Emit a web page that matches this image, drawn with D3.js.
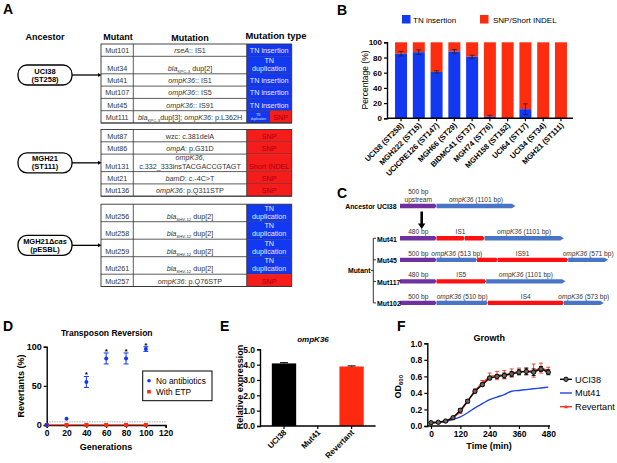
<!DOCTYPE html>
<html>
<head>
<meta charset="utf-8">
<script src="https://cdn.jsdelivr.net/npm/d3@7"></script>
<style>
body { margin: 0; background: #fff; }
svg { display: block; font-family: "Liberation Sans", Arial, sans-serif; }
</style>
</head>
<body>
<svg id="fig" width="617" height="463"></svg>
<script>
// ---------- panel A : mutation table ----------
var ancestors = [["UCI38", "(ST258)"], ["MGH21", "(ST111)"], ["MGH21\u0394*cas*", "(pESBL)"]];
var mutants = [
    ["Mut101", "Mut34", "Mut41", "Mut107", "Mut45", "Mut111"],
    ["Mut87", "Mut86", "Mut131", "Mut21", "Mut136"],
    ["Mut256", "Mut258", "Mut259", "Mut261", "Mut257"]
];
var mutations = [
    ["*rseA*:: IS1", "*bla*_{KPC-3} dup[2]", "*ompK36*:: IS1", "*ompK36*:: IS5", "*ompK36*:: IS91", "*bla*_{KPC-3}dup[3]; *ompK36*: p.L362H"],
    ["wzc: c.381delA", "*ompA*: p.G31D", "*ompK36*,|c.332_333insTACGACCGTAGT", "*bamD*: c.-4C>T", "*ompK36*: p.Q311STP"],
    ["*bla*_{SHV-12} dup[2]", "*bla*_{SHV-12} dup[2]", "*bla*_{SHV-12} dup[2]", "*bla*_{SHV-12} dup[2]", "*ompK36*: p.Q76STP"]
];
var mutTypes = [
    ["ins", "dup", "ins", "ins", "ins", "dup+snp"],
    ["snp", "snp", "indel", "snp", "snp"],
    ["dup", "dup", "dup", "dup", "snp"]
];

// ---------- panel B ----------
var strains = ["UCI38 (ST258)", "MGH222 (ST15)", "UCICRE126 (ST147)", "MGH66 (ST29)", "BIDMC41 (ST37)",
    "MGH74 (ST76)", "MGH158 (ST152)", "UCI64 (ST17)", "UCI34 (ST34)", "MGH21 (ST111)"];
var tnInsertion = [85, 87, 61, 88, 81, 2, 0, 12, 0, 0];
var tnErr = [3, 3, 1.5, 2.5, 2, 2, 0, 7, 0, 0];
var pctTicks = [0, 20, 40, 60, 80, 100];

// ---------- panel C : ompK36 locus schematics ----------
var constructs = ["Ancestor UCI38", "Mut41", "Mut45", "Mut117", "Mut102"];
var constructSlot = [0, 1.5, 2.5, 3.5, 4.5];
var segKinds = [
    ["up", "orf"],
    ["up", "is", "is", "orf"],
    ["up", "orf", "is", "is", "orf"],
    ["up", "is", "orf"],
    ["up", "orf", "is", "orf"]
];
var segLens = [
    [500, 1082],
    [500, 388, 270, 1086],
    [500, 556, 284, 963, 548],
    [500, 680, 1088],
    [500, 703, 1041, 548]
];
// [text, first segment, last segment]
var segLabels = [
    [["500 bp|upstream", 0, 0], ["*ompK36* (1101 bp)", 1, 1]],
    [["480 bp", 0, 0], ["IS1", 1, 2], ["*ompK36* (1101 bp)", 3, 3]],
    [["500 bp", 0, 0], ["*ompK36* (513 bp)", 1, 1], ["IS91", 2, 3], ["*ompK36* (571 bp)", 4, 4]],
    [["480 bp", 0, 0], ["IS5", 1, 1], ["*ompK36* (1101 bp)", 2, 2]],
    [["500 bp", 0, 0], ["*ompK36* (510 bp)", 1, 1], ["IS4", 2, 2], ["*ompK36* (573 bp)", 3, 3]]
];

// ---------- panel D ----------
var genTicks = [0, 20, 40, 60, 80, 100, 120];
var noAbGen = [0, 20, 40, 60, 80, 100];
var noAbMean = [0, 8, 55, 85, 85, 97];
var noAbErr = [0, 0, 7, 7, 7, 3];
var noAbSig = [false, false, true, true, true, true];
var etpGen = [0, 20, 40, 60, 80, 100];
var etpMean = [0, 0, 0, 0, 0, 0];
var detectLimit = 4;

// ---------- panel E ----------
var strainsE = ["UCI38", "Mut41", "Revertant"];
var exprMean = [4.08, 0, 3.88];
var exprErr = [0.05, 0, 0.04];
var exprColor = ["#000000", "#000000", "#ff2a10"];

// ---------- panel F ----------
var timeMin = [0, 30, 60, 90, 120, 150, 180, 210, 240, 270, 300, 330, 360, 390, 420, 450, 480];
var odUCI38 = [0.04, 0.045, 0.06, 0.10, 0.19, 0.30, 0.42, 0.50, 0.58, 0.60, 0.61, 0.63, 0.65, 0.66, 0.65, 0.69, 0.65];
var odUCI38Err = [0.01, 0.01, 0.01, 0.01, 0.02, 0.02, 0.02, 0.02, 0.02, 0.02, 0.03, 0.03, 0.03, 0.04, 0.04, 0.03, 0.03];
var odMut41 = [0.04, 0.045, 0.055, 0.08, 0.11, 0.16, 0.22, 0.27, 0.32, 0.35, 0.38, 0.42, 0.43, 0.44, 0.45, 0.46, 0.47];
var odRev = [0.04, 0.045, 0.06, 0.10, 0.17, 0.30, 0.43, 0.52, 0.60, 0.61, 0.62, 0.64, 0.66, 0.66, 0.67, 0.70, 0.67];
var odRevErr = [0.01, 0.01, 0.01, 0.01, 0.02, 0.02, 0.02, 0.03, 0.04, 0.05, 0.05, 0.05, 0.04, 0.04, 0.08, 0.06, 0.04];
var timeTicks = [0, 120, 240, 360, 480];
var odTicks = [0, 0.2, 0.4, 0.6, 0.8, 1.0];

var BLUE = "#1238f2";
var RED = "#f51c1c";
var svg = d3.select("#fig");

// text with *italic* and _{sub} markup
function rich(t, str, fs) {
    var parts = str.split(/(\*[^*]+\*|_\{[^}]+\})/g).filter(function(p) { return p; });
    var sub = false;
    parts.forEach(function(p) {
        var s = t.append("tspan");
        if (p[0] === "_" && p.length > 3) {
            s.text(p.slice(2, -1)).attr("font-size", fs * 0.6).attr("dy", fs * 0.3);
            sub = true;
            return;
        }
        if (p[0] === "*" && p.length > 2 && p[p.length - 1] === "*") {
            s.text(p.slice(1, -1)).style("font-style", "italic");
        } else {
            s.text(p);
        }
        if (sub) { s.attr("dy", -fs * 0.3); sub = false; }
    });
    return t;
}

function label(x, y, str, fs, opts) {
    opts = opts || {};
    var t = svg.append("text").attr("x", x).attr("y", y).attr("font-size", fs)
        .attr("text-anchor", opts.anchor || "middle")
        .attr("font-weight", opts.bold ? "bold" : null)
        .attr("fill", opts.fill || "#000");
    if (opts.rotate) t.attr("transform", "rotate(" + opts.rotate + "," + x + "," + y + ")");
    return rich(t, str, fs);
}

function styleAxis(g, fs) {
    g.selectAll("path.domain").attr("stroke", "#000").attr("stroke-width", 1.4);
    g.selectAll(".tick line").attr("stroke", "#000").attr("stroke-width", 1.2);
    g.selectAll(".tick text").attr("font-size", fs).attr("font-weight", "bold")
        .attr("font-family", "Liberation Sans, Arial, sans-serif").attr("fill", "#000");
}

// panel letters
[["A", 3, 14], ["B", 337, 15], ["C", 337, 198], ["D", 3, 331], ["E", 220, 331], ["F", 397, 331]].forEach(function(l) {
    svg.append("text").attr("x", l[1]).attr("y", l[2]).attr("font-size", 14).attr("font-weight", "bold").text(l[0]);
});

// ================= A =================
(function() {
    var cols = [101, 133.3, 246.7, 291.7];
    var fs = 7.2;
    label(45, 40, "Ancestor", 9, {bold: true});
    label(118, 40, "Mutant", 9, {bold: true});
    label(190, 41, "Mutation", 9, {bold: true});
    label(276, 39, "Mutation type", 9.4, {bold: true});

    var y = 44;
    mutants.forEach(function(group, gi) {
        var top = y;
        group.forEach(function(m, ri) {
            var mut = mutations[gi][ri], typ = mutTypes[gi][ri];
            var two = mut.indexOf("|") >= 0 || typ === "dup";
            var h = two ? 17.5 : 12.3;
            var bot = y + h;
            // type cell
            if (typ === "dup+snp") {
                svg.append("rect").attr("x", cols[2]).attr("y", y).attr("width", 23.3).attr("height", h).attr("fill", BLUE);
                svg.append("rect").attr("x", cols[2] + 23.3).attr("y", y).attr("width", cols[3] - cols[2] - 23.3).attr("height", h).attr("fill", RED);
                label(cols[2] + 11.6, y + 5.5, "TN", 3.2, {fill: "#dfe6ff"});
                label(cols[2] + 11.6, y + 9.5, "duplication", 3.2, {fill: "#dfe6ff"});
                label(cols[2] + 34, bot - 3, "SNP", fs, {fill: "#a8000c"});
            } else {
                var blue = typ === "ins" || typ === "dup";
                svg.append("rect").attr("x", cols[2]).attr("y", y).attr("width", cols[3] - cols[2]).attr("height", h)
                    .attr("fill", blue ? BLUE : RED);
                var cx = (cols[2] + cols[3]) / 2, tc = blue ? "#e4ebff" : "#a8000c";
                if (typ === "ins") label(cx, bot - 3, "TN insertion", fs, {fill: tc});
                if (typ === "dup") { label(cx, bot - 11, "TN", fs, {fill: tc}); label(cx, bot - 3, "duplication", fs, {fill: tc}); }
                if (typ === "snp") label(cx, bot - 3, "SNP", fs, {fill: tc});
                if (typ === "indel") label(cx, bot - 3, "Short INDEL", fs, {fill: tc});
            }
            label((cols[0] + cols[1]) / 2, bot - 3, m, fs, {fill: "#333"});
            var lines = mut.split("|");
            lines.forEach(function(ln, li) {
                label((cols[1] + cols[2]) / 2, bot - 3 - (lines.length - 1 - li) * 8.5, ln, fs, {fill: "#333"});
            });
            svg.append("line").attr("x1", cols[0]).attr("x2", cols[3]).attr("y1", bot).attr("y2", bot)
                .attr("stroke", "#333").attr("stroke-width", 0.8);
            y = bot;
        });
        // outline + column lines
        svg.append("rect").attr("x", cols[0]).attr("y", top).attr("width", cols[3] - cols[0]).attr("height", y - top)
            .attr("fill", "none").attr("stroke", "#333").attr("stroke-width", 0.9);
        [cols[1], cols[2]].forEach(function(cx) {
            svg.append("line").attr("x1", cx).attr("x2", cx).attr("y1", top).attr("y2", y).attr("stroke", "#333").attr("stroke-width", 0.8);
        });
        // ancestor pill + arrow
        var ay = gi === 0 ? 75 : (top + y) / 2;
        svg.append("rect").attr("x", 18).attr("y", ay - 10).attr("width", 54).attr("height", 20).attr("rx", 9)
            .attr("fill", "#fff").attr("stroke", "#000").attr("stroke-width", 1.3);
        label(45, ay - 1.5, ancestors[gi][0], 7.5, {bold: true});
        label(45, ay + 6.5, ancestors[gi][1], 7.5, {bold: true});
        svg.append("line").attr("x1", 72).attr("x2", 98).attr("y1", ay).attr("y2", ay).attr("stroke", "#000").attr("stroke-width", 1.3);
        svg.append("path").attr("d", "M98," + (ay - 2) + "L101.5," + ay + "L98," + (ay + 2) + "Z").attr("fill", "#000");
        y += gi === 0 ? 6.5 : 8;
    });
})();

// ================= B =================
(function() {
    svg.append("rect").attr("x", 402).attr("y", 15).attr("width", 8.5).attr("height", 8.5).attr("fill", BLUE);
    label(413, 22.5, "TN insertion", 8, {anchor: "start"});
    svg.append("rect").attr("x", 480).attr("y", 15).attr("width", 8.5).attr("height", 8.5).attr("fill", "#ff2d0f");
    label(493, 22.5, "SNP/Short INDEL", 8, {anchor: "start"});

    var x = d3.scaleBand().domain(strains).range([389, 573]).paddingInner(0.325).paddingOuter(0.34);
    var y = d3.scaleLinear().domain([0, 100]).range([118.3, 42.3]);
    var g = svg.append("g");
    g.selectAll("rect.snp").data(strains).enter().append("rect")
        .attr("x", function(d) { return x(d); }).attr("width", x.bandwidth())
        .attr("y", y(100)).attr("height", function(d, i) { return y(tnInsertion[i]) - y(100); })
        .attr("fill", "#ff2d0f");
    g.selectAll("rect.tn").data(strains).enter().append("rect")
        .attr("x", function(d) { return x(d); }).attr("width", x.bandwidth())
        .attr("y", function(d, i) { return y(tnInsertion[i]); })
        .attr("height", function(d, i) { return y(0) - y(tnInsertion[i]); })
        .attr("fill", BLUE);
    strains.forEach(function(s, i) {
        if (!tnErr[i]) return;
        var cx = x(s) + x.bandwidth() / 2, lo = y(Math.max(0, tnInsertion[i] - tnErr[i])), hi = y(tnInsertion[i] + tnErr[i]);
        g.append("line").attr("x1", cx).attr("x2", cx).attr("y1", lo).attr("y2", hi).attr("stroke", "#222").attr("stroke-width", 0.8);
        [lo, hi].forEach(function(v) {
            g.append("line").attr("x1", cx - 2.5).attr("x2", cx + 2.5).attr("y1", v).attr("y2", v).attr("stroke", "#222").attr("stroke-width", 0.8);
        });
    });
    var ya = svg.append("g").attr("transform", "translate(387,0)")
        .call(d3.axisLeft(y).tickValues(pctTicks).tickSize(3).tickPadding(2));
    styleAxis(ya, 8);
    var xa = svg.append("g").attr("transform", "translate(0,118.3)")
        .call(d3.axisBottom(x).tickSize(3).tickFormat(""));
    xa.select("path.domain").attr("d", "M387,0H573");
    styleAxis(xa, 8);
    strains.forEach(function(s) {
        var cx = x(s) + x.bandwidth() / 2 + 3;
        label(cx, 126, s, 7.6, {bold: true, anchor: "end", rotate: -45});
    });
    label(368, 80, "Percentage (%)", 8.5, {rotate: -90});
})();

// ================= C =================
(function() {
    var x = d3.scaleLinear().domain([0, 2900]).range([400, 400 + 2900 * 0.073]);
    var y = d3.scaleLinear().domain([0, 1.5]).range([206, 238.3]);
    var col = {up: "#7030a0", orf: "#4a74c6", is: "#ff1010"};
    constructs.forEach(function(name, ci) {
        var cy = y(constructSlot[ci]);
        var starts = [0];
        segLens[ci].forEach(function(l) { starts.push(starts[starts.length - 1] + l); });
        segKinds[ci].forEach(function(k, si) {
            var x0 = x(starts[si]), x1 = x(starts[si + 1]);
            var last = si === segKinds[ci].length - 1;
            var tip = last ? 3.5 : 1.5;
            svg.append("path")
                .attr("d", "M" + x0 + "," + (cy - 2.2) + "L" + (x1 - tip) + "," + (cy - 2.2) + "L" + x1 + "," + cy +
                    "L" + (x1 - tip) + "," + (cy + 2.2) + "L" + x0 + "," + (cy + 2.2) + "Z")
                .attr("fill", col[k]);
        });
        segLabels[ci].forEach(function(lb) {
            var cx = (x(starts[lb[1]]) + x(starts[lb[2] + 1])) / 2;
            var lines = lb[0].split("|");
            lines.forEach(function(ln, li) {
                label(cx, cy - 4 - (lines.length - 1 - li) * 8.5, ln, 6.6, {fill: "#333"});
            });
        });
        if (ci === 0) label(396.5, cy + 2.5, name, 6.9, {bold: true, anchor: "end"});
        else label(377, cy + 3.5, name, 6.9, {bold: true, anchor: "start"});
    });
    // ancestor -> mutants arrow
    svg.append("line").attr("x1", 421.7).attr("x2", 421.7).attr("y1", 211.5).attr("y2", 224).attr("stroke", "#000").attr("stroke-width", 2.6);
    svg.append("path").attr("d", "M418,223.5L425.4,223.5L421.7,229Z").attr("fill", "#000");
    // Mutant bracket
    var yTop = y(constructSlot[1]), yBot = y(constructSlot[4]);
    svg.append("line").attr("x1", 373.3).attr("x2", 373.3).attr("y1", yTop).attr("y2", yBot).attr("stroke", "#000").attr("stroke-width", 0.8);
    constructs.slice(1).forEach(function(n, i) {
        var cy = y(constructSlot[i + 1]);
        svg.append("line").attr("x1", 373.3).attr("x2", 376).attr("y1", cy).attr("y2", cy).attr("stroke", "#000").attr("stroke-width", 0.8);
    });
    var my = (yTop + yBot) / 2;
    svg.append("line").attr("x1", 371).attr("x2", 373.3).attr("y1", my).attr("y2", my).attr("stroke", "#000").attr("stroke-width", 0.8);
    label(370.5, my + 2.5, "Mutant", 6.9, {bold: true, anchor: "end"});
})();

// ================= D =================
(function() {
    var x = d3.scaleLinear().domain([0, 120]).range([46.7, 165.7]);
    var y = d3.scaleLinear().domain([0, 100]).range([425, 346.7]);
    label(106.7, 336, "Transposon Reversion", 8.5, {bold: true});
    svg.append("line").attr("x1", x(0)).attr("x2", x(120)).attr("y1", y(detectLimit)).attr("y2", y(detectLimit))
        .attr("stroke", "#888").attr("stroke-width", 0.7).attr("stroke-dasharray", "1.5,1");
    var ya = svg.append("g").attr("transform", "translate(46.7,0)")
        .call(d3.axisLeft(y).tickValues([0, 50, 100]).tickSize(3).tickPadding(2));
    styleAxis(ya, 9);
    var xa = svg.append("g").attr("transform", "translate(0,425)")
        .call(d3.axisBottom(x).tickValues(genTicks).tickSize(3).tickPadding(1.5));
    styleAxis(xa, 8.5);
    svg.append("line").attr("x1", x(0)).attr("x2", x(100)).attr("y1", y(0)).attr("y2", y(0)).attr("stroke", "#d42a10").attr("stroke-width", 1);
    etpGen.forEach(function(gn, i) {
        svg.append("rect").attr("x", x(gn) - 2).attr("y", y(etpMean[i]) - 2).attr("width", 4).attr("height", 4).attr("fill", "#ff2a10");
    });
    noAbGen.forEach(function(gn, i) {
        var cx = x(gn), cy = y(noAbMean[i]);
        if (noAbErr[i]) {
            var lo = y(noAbMean[i] - noAbErr[i]), hi = y(noAbMean[i] + noAbErr[i]);
            svg.append("line").attr("x1", cx).attr("x2", cx).attr("y1", lo).attr("y2", hi).attr("stroke", BLUE).attr("stroke-width", 1);
            [lo, hi].forEach(function(v) {
                svg.append("line").attr("x1", cx - 2.5).attr("x2", cx + 2.5).attr("y1", v).attr("y2", v).attr("stroke", BLUE).attr("stroke-width", 1);
            });
        }
        svg.append("circle").attr("cx", cx).attr("cy", cy).attr("r", 2).attr("fill", BLUE);
        if (noAbSig[i]) label(cx, y(noAbMean[i] + noAbErr[i]) + 1, "*", 8, {bold: true});
    });
    label(24, 386, "Revertants (%)", 9, {bold: true, rotate: -90});
    label(106, 450, "Generations", 9, {bold: true});
    // legend
    svg.append("rect").attr("x", 142.7).attr("y", 371).attr("width", 69.3).attr("height", 29.7)
        .attr("fill", "#fff").attr("stroke", "#000").attr("stroke-width", 1);
    svg.append("circle").attr("cx", 149).attr("cy", 380.7).attr("r", 1.8).attr("fill", BLUE);
    label(156, 383.7, "No antibiotics", 8.3, {anchor: "start"});
    svg.append("rect").attr("x", 147.2).attr("y", 389.9).attr("width", 3.6).attr("height", 3.6).attr("fill", "#ff2a10");
    label(156, 394.7, "With ETP", 8.3, {anchor: "start"});
})();

// ================= E =================
(function() {
    var x = d3.scaleBand().domain(strainsE).range([260, 375.6]).paddingInner(0.28).paddingOuter(0.35);
    var y = d3.scaleLinear().domain([0, 5]).range([426, 349.3]);
    label(313, 342, "*ompK36*", 8, {bold: true});
    svg.selectAll("rect.expr").data(strainsE).enter().append("rect")
        .attr("x", function(d) { return x(d); }).attr("width", x.bandwidth())
        .attr("y", function(d, i) { return y(exprMean[i]); })
        .attr("height", function(d, i) { return y(0) - y(exprMean[i]); })
        .attr("fill", function(d, i) { return exprColor[i]; });
    strainsE.forEach(function(s, i) {
        if (!exprErr[i]) return;
        var cx = x(s) + x.bandwidth() / 2, hi = y(exprMean[i] + exprErr[i]);
        svg.append("line").attr("x1", cx - 4).attr("x2", cx + 4).attr("y1", hi).attr("y2", hi).attr("stroke", "#000").attr("stroke-width", 1);
        svg.append("line").attr("x1", cx).attr("x2", cx).attr("y1", hi).attr("y2", y(exprMean[i])).attr("stroke", "#000").attr("stroke-width", 1);
    });
    var ya = svg.append("g").attr("transform", "translate(260,0)")
        .call(d3.axisLeft(y).tickValues([0, 1, 2, 3, 4, 5]).tickSize(3).tickPadding(2));
    styleAxis(ya, 8.5);
    var xa = svg.append("g").attr("transform", "translate(0,426)")
        .call(d3.axisBottom(x).tickSize(3).tickFormat(""));
    xa.select("path.domain").attr("d", "M260,0H375.6");
    styleAxis(xa, 8);
    strainsE.forEach(function(s) {
        label(x(s) + x.bandwidth() / 2 + 3, 433, s, 8, {bold: true, anchor: "end", rotate: -45});
    });
    label(243, 387, "Relative expression", 9, {bold: true, rotate: -90});
})();

// ================= F =================
(function() {
    var x = d3.scaleLinear().domain([0, 480]).range([431, 548.3]);
    var y = d3.scaleLinear().domain([0, 1]).range([426, 343.3]);
    label(489.3, 341, "Growth", 9, {bold: true});
    var ya = svg.append("g").attr("transform", "translate(427.3,0)")
        .call(d3.axisLeft(y).tickValues(odTicks).tickFormat(d3.format(".1f")).tickSize(3).tickPadding(2));
    styleAxis(ya, 8.5);
    var xa = svg.append("g").attr("transform", "translate(0,426)")
        .call(d3.axisBottom(x).tickValues(timeTicks).tickSize(3).tickPadding(1.5));
    xa.select("path.domain").attr("d", "M427.3,0H550");
    styleAxis(xa, 8.5);

    var line = d3.line().x(function(d, i) { return x(timeMin[i]); }).y(function(d) { return y(d); });
    var smooth = d3.line().x(function(d, i) { return x(timeMin[i]); }).y(function(d) { return y(d); }).curve(d3.curveMonotoneX);
    svg.append("path").datum(odMut41).attr("d", smooth).attr("fill", "none").attr("stroke", "#2046e0").attr("stroke-width", 1.4);

    function errBars(vals, errs, color) {
        vals.forEach(function(v, i) {
            var cx = x(timeMin[i]), lo = y(v - errs[i]), hi = y(v + errs[i]);
            svg.append("line").attr("x1", cx).attr("x2", cx).attr("y1", lo).attr("y2", hi).attr("stroke", color).attr("stroke-width", 0.9);
            [lo, hi].forEach(function(w) {
                svg.append("line").attr("x1", cx - 2).attr("x2", cx + 2).attr("y1", w).attr("y2", w).attr("stroke", color).attr("stroke-width", 0.9);
            });
        });
    }
    errBars(odRev, odRevErr, "#ee3a22");
    svg.append("path").datum(odRev).attr("d", line).attr("fill", "none").attr("stroke", "#ee3a22").attr("stroke-width", 1.4);
    odRev.forEach(function(v, i) {
        var cx = x(timeMin[i]), cy = y(v);
        svg.append("path").attr("d", "M" + (cx - 2) + "," + (cy + 1.5) + "L" + (cx + 2) + "," + (cy + 1.5) + "L" + cx + "," + (cy - 2) + "Z").attr("fill", "#ee3a22");
    });
    errBars(odUCI38, odUCI38Err, "#000");
    svg.append("path").datum(odUCI38).attr("d", line).attr("fill", "none").attr("stroke", "#000").attr("stroke-width", 1.4);
    odUCI38.forEach(function(v, i) {
        svg.append("circle").attr("cx", x(timeMin[i])).attr("cy", y(v)).attr("r", 2.2).attr("fill", "#666").attr("stroke", "#000").attr("stroke-width", 0.9);
    });

    label(489, 449, "Time (min)", 9, {bold: true});
    var od = svg.append("text").attr("x", 401).attr("y", 386.7).attr("font-size", 9).attr("font-weight", "bold")
        .attr("text-anchor", "middle").attr("transform", "rotate(-90,401,386.7)");
    od.append("tspan").text("OD");
    od.append("tspan").text("600").attr("font-size", 6).attr("dy", 2.5);

    // legend
    var items = [["UCI38", "#000", "circle"], ["Mut41", "#2046e0", "none"], ["Revertant", "#ee3a22", "tri"]];
    items.forEach(function(it, i) {
        var ly = 379.3 + i * 13.7;
        svg.append("line").attr("x1", 560).attr("x2", 572).attr("y1", ly).attr("y2", ly).attr("stroke", it[1]).attr("stroke-width", 1.4);
        if (it[2] === "circle") svg.append("circle").attr("cx", 566).attr("cy", ly).attr("r", 2.2).attr("fill", "#666").attr("stroke", "#000").attr("stroke-width", 0.9);
        if (it[2] === "tri") svg.append("path").attr("d", "M564,"+(ly + 1.5)+"L568,"+(ly + 1.5)+"L566,"+(ly - 2)+"Z").attr("fill", it[1]);
        label(575, ly + 3.3, it[0], 9.2, {anchor: "start"});
    });
})();
</script>
</body>
</html>
